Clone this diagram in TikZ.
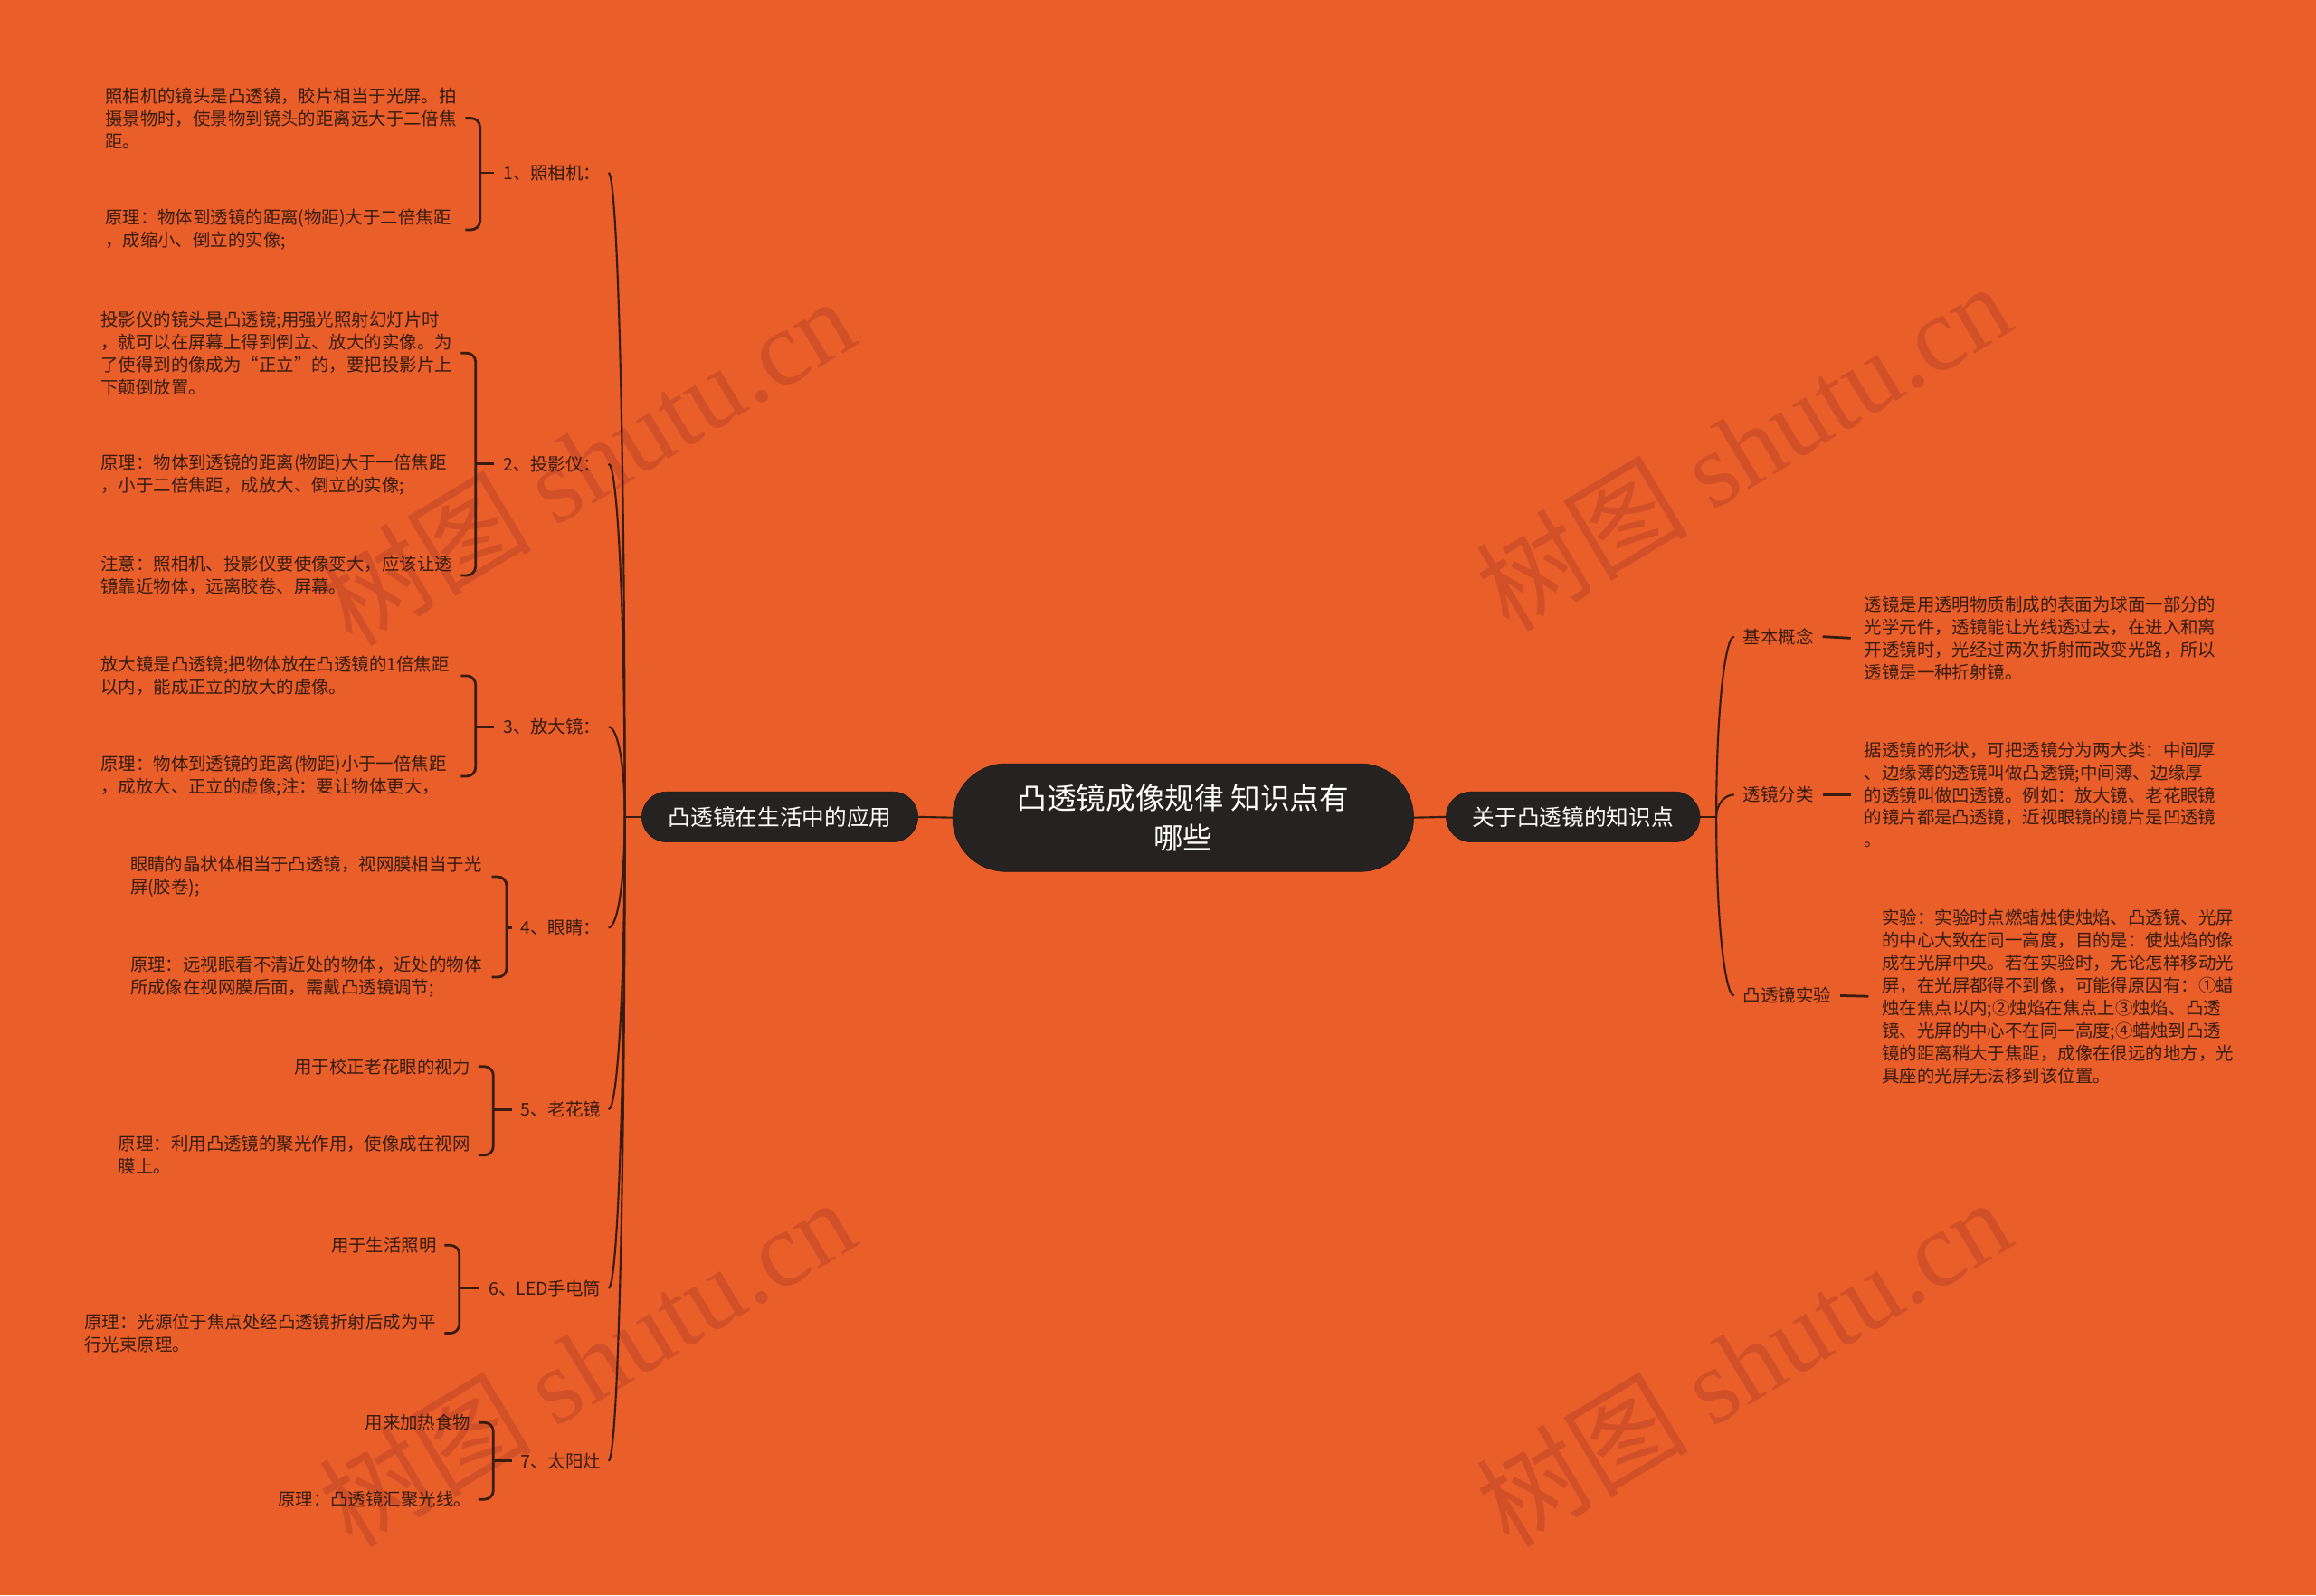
\documentclass[tikz,border=0pt]{standalone}
\usepackage{fontspec}
\setmainfont{Noto Sans CJK SC}
\newfontfamily\wmserif{Liberation Serif}
\usetikzlibrary{calc}

\definecolor{bgc}{RGB}{233,94,41}
\definecolor{ink}{RGB}{56,28,16}
\definecolor{nodec}{RGB}{38,34,33}
\definecolor{wmc}{RGB}{194,72,38}

\tikzset{
    txt/.style={font=\fontsize{11.9}{15.3}\selectfont, text=ink, align=left, inner sep=0pt, anchor=west},
    lbl/.style={font=\fontsize{11.9}{15}\selectfont, text=ink, inner sep=0pt},
    topic/.style={fill=nodec, draw=nodec!80!black, text=white, rounded corners=17pt,
        minimum height=34pt, inner xsep=18pt, font=\fontsize{15.1}{18}\selectfont},
    centre/.style={fill=nodec, draw=nodec!80!black, text=white, rounded corners=36pt,
        minimum width=312pt, minimum height=73pt, align=center, font=\fontsize{20}{27}\selectfont},
    brace/.style={draw=ink, line width=1.7pt, rounded corners=6pt},
    branch/.style={draw=ink, line width=1.3pt},
    wm/.style={text=wmc, opacity=0.6, rotate=31, font=\fontsize{72}{72}\selectfont, inner sep=0pt}
}

\begin{document}
\begin{tikzpicture}[x=1pt, y=-1pt]

    % page + background
    \useasboundingbox (0,0) rectangle (1568,1080);
    \fill [bgc] (0,0) rectangle (1568,1080);

    %%%%%%%%%%%%%%%%%%%%%%%%%%
    % watermarks
    %%%%%%%%%%%%%%%%%%%%%%%%%%
    \node [wm] (w1) at (397,312) {树图 {\wmserif shutu.cn}};
    \node [wm] (w2) at (1180,302) {树图 {\wmserif shutu.cn}};
    \node [wm] (w3) at (397,922) {树图 {\wmserif shutu.cn}};
    \node [wm] (w4) at (1180,922) {树图 {\wmserif shutu.cn}};

    %%%%%%%%%%%%%%%%%%%%%%%%%%
    % centre and main topics
    %%%%%%%%%%%%%%%%%%%%%%%%%%
    \node [centre] (root) at (801,553.5) {凸透镜成像规律 知识点有\\哪些};
    \node [topic] (lt) at (528,553) {凸透镜在生活中的应用};
    \node [topic] (rt) at (1065,553) {关于凸透镜的知识点};
    \draw [branch] (lt.east) -- (root.west);
    \draw [branch] (root.east) -- (rt.west);

    %% left side
    \begin{scope}
        % --- labels
        \node [lbl, anchor=east] (l1) at (407,117) {1、照相机：};
        \node [lbl, anchor=east] (l2) at (407,314) {2、投影仪：};
        \node [lbl, anchor=east] (l3) at (407,492) {3、放大镜：};
        \node [lbl, anchor=east] (l4) at (407,628) {4、眼睛：};
        \node [lbl, anchor=east] (l5) at (407,751) {5、老花镜};
        \node [lbl, anchor=east] (l6) at (407,872) {6、LED手电筒};
        \node [lbl, anchor=east] (l7) at (407,989) {7、太阳灶};

        % --- trunk
        \coordinate (lroot) at (423,553);
        \draw [branch] (lt.west) -- (lroot);
        \foreach \i in {1,...,7}
            \draw [branch] (lroot) .. controls ($(lroot)!0.6!(lroot |- l\i.east)$) and ($(l\i.east)+(11,0)$) .. ($(l\i.east)+(5,0)$);

        % --- 1
        \node [txt] (c1a) at (71,80) {照相机的镜头是凸透镜，胶片相当于光屏。拍\\摄景物时，使景物到镜头的距离远大于二倍焦\\距。};
        \node [txt] (c1b) at (71,155.5) {原理：物体到透镜的距离(物距)大于二倍焦距\\，成缩小、倒立的实像;};
        \coordinate (k1) at (325,117);
        \draw [brace] ($(k1 |- c1a)+(-10,0)$) -- (k1 |- c1a) -- (k1 |- c1b) -- ++(-10,0);
        \draw [brace] (k1) -- ($(l1.west)+(-6,0)$);

        % --- 2
        \node [txt] (c2a) at (68,239) {投影仪的镜头是凸透镜;用强光照射幻灯片时\\，就可以在屏幕上得到倒立、放大的实像。为\\了使得到的像成为“正立”的，要把投影片上\\下颠倒放置。};
        \node [txt] (c2b) at (68,321.5) {原理：物体到透镜的距离(物距)大于一倍焦距\\，小于二倍焦距，成放大、倒立的实像;};
        \node [txt] (c2c) at (68,389.5) {注意：照相机、投影仪要使像变大，应该让透\\镜靠近物体，远离胶卷、屏幕。};
        \coordinate (k2) at (322,314);
        \draw [brace] ($(k2 |- c2a)+(-10,0)$) -- (k2 |- c2a) -- (k2 |- c2c) -- ++(-10,0);
        \draw [brace] (k2) -- ($(l2.west)+(-6,0)$);

        % --- 3
        \node [txt] (c3a) at (68,457.5) {放大镜是凸透镜;把物体放在凸透镜的1倍焦距\\以内，能成正立的放大的虚像。};
        \node [txt] (c3b) at (68,525.5) {原理：物体到透镜的距离(物距)小于一倍焦距\\，成放大、正立的虚像;注：要让物体更大，};
        \coordinate (k3) at (322,492);
        \draw [brace] ($(k3 |- c3a)+(-10,0)$) -- (k3 |- c3a) -- (k3 |- c3b) -- ++(-10,0);
        \draw [brace] (k3) -- ($(l3.west)+(-6,0)$);

        % --- 4
        \node [txt] (c4a) at (88,593.5) {眼睛的晶状体相当于凸透镜，视网膜相当于光\\屏(胶卷);};
        \node [txt] (c4b) at (88,661.5) {原理：远视眼看不清近处的物体，近处的物体\\所成像在视网膜后面，需戴凸透镜调节;};
        \coordinate (k4) at (343,628);
        \draw [brace] ($(k4 |- c4a)+(-10,0)$) -- (k4 |- c4a) -- (k4 |- c4b) -- ++(-10,0);
        \draw [brace] (k4) -- ($(l4.west)+(-6,0)$);

        % --- 5
        \node [txt] (c5a) at (199,722) {用于校正老花眼的视力};
        \node [txt] (c5b) at (80,782) {原理：利用凸透镜的聚光作用，使像成在视网\\膜上。};
        \coordinate (k5) at (334,751);
        \draw [brace] ($(k5 |- c5a)+(-10,0)$) -- (k5 |- c5a) -- (k5 |- c5b) -- ++(-10,0);
        \draw [brace] (k5) -- ($(l5.west)+(-6,0)$);

        % --- 6
        \node [txt] (c6a) at (224,843) {用于生活照明};
        \node [txt] (c6b) at (57,902.5) {原理：光源位于焦点处经凸透镜折射后成为平\\行光束原理。};
        \coordinate (k6) at (311,872);
        \draw [brace] ($(k6 |- c6a)+(-10,0)$) -- (k6 |- c6a) -- (k6 |- c6b) -- ++(-10,0);
        \draw [brace] (k6) -- ($(l6.west)+(-6,0)$);

        % --- 7
        \node [txt] (c7a) at (247,963) {用来加热食物};
        \node [txt] (c7b) at (188,1015) {原理：凸透镜汇聚光线。};
        \coordinate (k7) at (334,989);
        \draw [brace] ($(k7 |- c7a)+(-10,0)$) -- (k7 |- c7a) -- (k7 |- c7b) -- ++(-10,0);
        \draw [brace] (k7) -- ($(l7.west)+(-6,0)$);
    \end{scope}

    %% right side
    \begin{scope}
        % --- labels
        \node [lbl, anchor=west] (r1) at (1180,431) {基本概念};
        \node [lbl, anchor=west] (r2) at (1180,538) {透镜分类};
        \node [lbl, anchor=west] (r3) at (1180,674) {凸透镜实验};

        % --- trunk
        \coordinate (rroot) at (1162,553);
        \draw [branch] (rt.east) -- (rroot);
        \foreach \i in {1,2,3}
            \draw [branch] (rroot) .. controls ($(rroot)!0.6!(rroot |- r\i.west)$) and ($(r\i.west)+(-12,0)$) .. ($(r\i.west)+(-6,0)$);

        % --- texts
        \node [txt] (s1) at (1262,432) {透镜是用透明物质制成的表面为球面一部分的\\光学元件，透镜能让光线透过去，在进入和离\\开透镜时，光经过两次折射而改变光路，所以\\透镜是一种折射镜。};
        \node [txt] (s2) at (1262,538) {据透镜的形状，可把透镜分为两大类：中间厚\\、边缘薄的透镜叫做凸透镜;中间薄、边缘厚\\的透镜叫做凹透镜。例如：放大镜、老花眼镜\\的镜片都是凸透镜，近视眼镜的镜片是凹透镜\\。};
        \node [txt] (s3) at (1274,674.5) {实验：实验时点燃蜡烛使烛焰、凸透镜、光屏\\的中心大致在同一高度，目的是：使烛焰的像\\成在光屏中央。若在实验时，无论怎样移动光\\屏，在光屏都得不到像，可能得原因有：①蜡\\烛在焦点以内;②烛焰在焦点上③烛焰、凸透\\镜、光屏的中心不在同一高度;④蜡烛到凸透\\镜的距离稍大于焦距，成像在很远的地方，光\\具座的光屏无法移到该位置。};

        \foreach \i in {1,2,3}
            \draw [brace] ($(r\i.east)+(6,0)$) -- ($(s\i.west)+(-9,0)$);
    \end{scope}

\end{tikzpicture}
\end{document}
